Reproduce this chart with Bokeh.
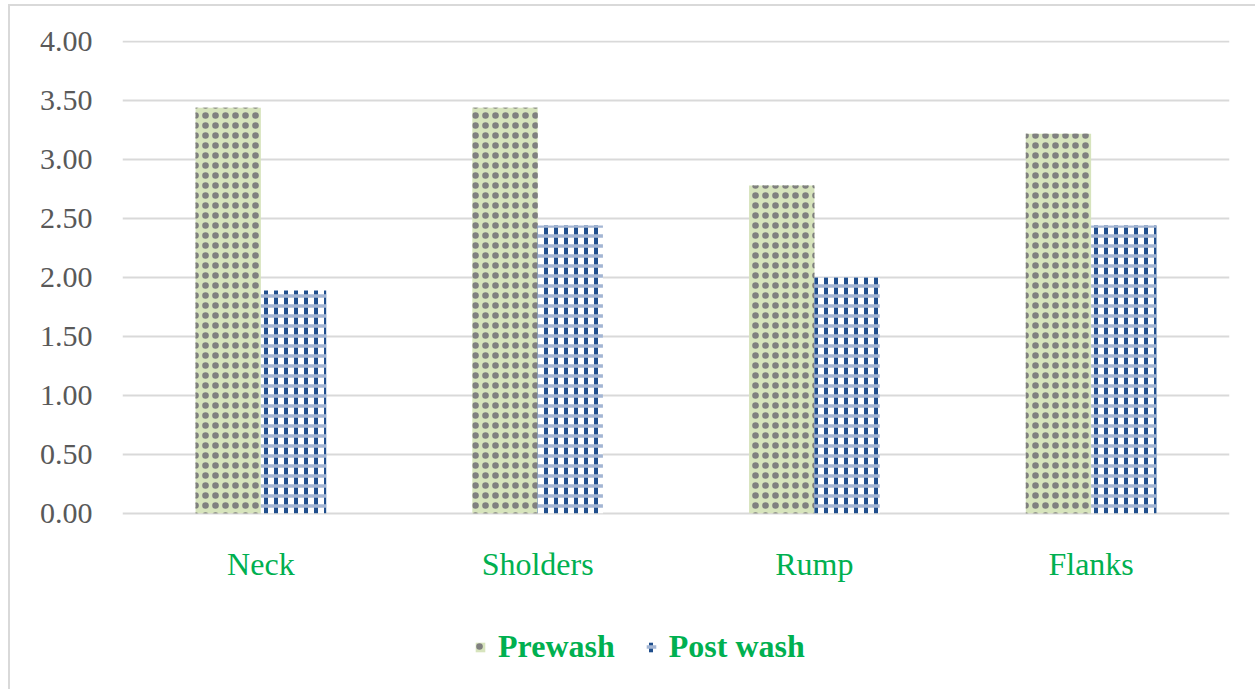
from bokeh.plotting import figure
from bokeh.models import (ColumnDataSource, FactorRange, Range1d, FixedTicker,
                          NumeralTickFormatter, Legend, LegendItem)
from bokeh.core.properties import value
from bokeh.transform import dodge
from bokeh.embed import file_html
from bokeh.resources import INLINE

# Body regions and mean scores before and after washing
regions = ["Neck", "Sholders", "Rump", "Flanks"]
prewash = [3.44, 3.44, 2.78, 3.22]
post_wash = [1.89, 2.44, 2.00, 2.44]
y_ticks = [0.0, 0.5, 1.0, 1.5, 2.0, 2.5, 3.0, 3.5, 4.0]

source = ColumnDataSource(dict(region=regions, prewash=prewash, post_wash=post_wash))

SERIF = "Liberation Serif"
GREEN = "#00b050"
EDGE = "#d9d9d9"

# The plotting area runs down to the bottom of the page so that the region
# names and the legend can sit below the zero line.
p = figure(
    x_range=FactorRange(*regions),
    y_range=Range1d(-1.495, 4.01),
    frame_width=1107, frame_height=649,
    min_border_left=122, min_border_right=26,
    min_border_top=40, min_border_bottom=0,
    output_backend="svg", toolbar_location=None,
)
p.outline_line_color = None
p.background_fill_color = "white"
p.border_fill_alpha = 0
# thin light rule along the top and left of the chart box
p.styles = {
    "background": (f"linear-gradient({EDGE},{EDGE}) 8px 4px / 2px 100% no-repeat, "
                   f"linear-gradient({EDGE},{EDGE}) 8px 4px / 100% 2px no-repeat, white"),
}

bar_w = 0.236
off = 0.118
pre_x = dodge("region", -off, range=p.x_range)
post_x = dodge("region", off, range=p.x_range)

# Prewash: pale green with a grid of grey spots (ring + centre dot)
pre_base = p.vbar(
    x=pre_x, top="prewash", width=bar_w, source=source,
    fill_color="#d7e4bd", line_color=None,
    hatch_pattern="o", hatch_color="#808080", hatch_scale=10, hatch_weight=1.6,
)
pre_over = p.vbar(
    x=pre_x, top="prewash", width=bar_w, source=source,
    fill_color=None, fill_alpha=0, line_color=None,
    hatch_pattern=".", hatch_color="#808080", hatch_scale=10, hatch_weight=3,
)

# Post wash: navy columns crossed by lighter blue bands on white
post_base = p.vbar(
    x=post_x, top="post_wash", width=bar_w, source=source,
    fill_color="white", line_color=None,
    hatch_pattern="|", hatch_color="#1f4e8c", hatch_scale=10, hatch_weight=4,
)
post_over = p.vbar(
    x=post_x, top="post_wash", width=bar_w, source=source,
    fill_color=None, fill_alpha=0, line_color=None,
    hatch_pattern="-", hatch_color="#a3b5d3", hatch_scale=10, hatch_weight=3.5,
)

# region names under each pair of bars
p.text(
    x="region", y=-0.43, text="region", source=source,
    text_font=value(SERIF), text_font_size="32px", text_color=GREEN,
    text_align="center", text_baseline="middle",
)

# grid and axes
p.xgrid.grid_line_color = None
p.xaxis.visible = False
p.ygrid.grid_line_color = EDGE
p.ygrid.grid_line_width = 2
p.yaxis.ticker = FixedTicker(ticks=y_ticks)
p.yaxis.formatter = NumeralTickFormatter(format="0.00")
p.yaxis.axis_line_color = None
p.yaxis.major_tick_line_color = None
p.yaxis.minor_tick_line_color = None
p.yaxis.major_tick_out = 0
p.yaxis.major_tick_in = 0
p.yaxis.major_label_text_font = SERIF
p.yaxis.major_label_text_font_size = "30px"
p.yaxis.major_label_text_color = "#595959"
p.yaxis.major_label_standoff = 30

legend = Legend(
    items=[LegendItem(label="Prewash", renderers=[pre_base, pre_over]),
           LegendItem(label="Post wash", renderers=[post_base, post_over])],
    orientation="horizontal",
    location=(352, 24),
    label_text_font=SERIF, label_text_font_style="bold",
    label_text_font_size="32px", label_text_color=GREEN,
    glyph_width=12, glyph_height=12, label_standoff=12, spacing=30,
    padding=0, margin=0, border_line_color=None, background_fill_alpha=0,
)
p.add_layout(legend, "center")

open("out.html", "w").write(file_html(p, INLINE))
